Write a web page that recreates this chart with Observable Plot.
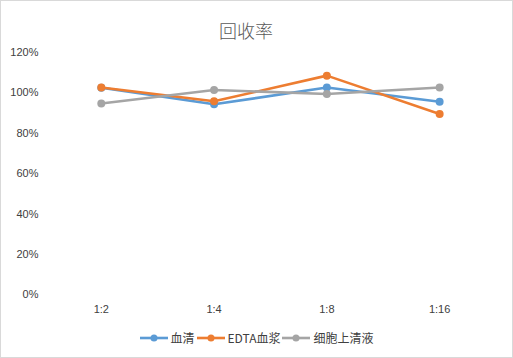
<!DOCTYPE html>
<html><head><meta charset="utf-8">
<script src="https://cdn.jsdelivr.net/npm/d3@7"></script>
<script src="https://cdn.jsdelivr.net/npm/@observablehq/plot@0.6"></script>
<style>
body{margin:0;background:#fff;}
#wrap{position:relative;width:511px;height:356px;border:1px solid #d9d9d9;overflow:hidden;font-family:"Noto Sans CJK SC","Liberation Sans",sans-serif;}
#title{position:absolute;left:0;width:490px;top:16px;text-align:center;font-size:18px;color:#595959;font-weight:300;}
#legend{position:absolute;top:328px;left:0;width:511px;display:flex;justify-content:center;font-size:12px;color:#404040;padding-left:0;}
#legend .it{display:flex;align-items:center;margin:0 1px;}
#legend svg{margin-right:3px;}
#plot{position:absolute;left:-1px;top:-1px;}
</style></head>
<body>
<div id="wrap">
<div id="plot"></div>
<div id="title">回收率</div>
<div id="legend"></div>
</div>
<script>
const categories = ["1:2","1:4","1:8","1:16"];
const seriesNames = ["血清","EDTA血浆","细胞上清液"];
const serum = [1.025, 0.943, 1.026, 0.956];
const edta = [1.026, 0.958, 1.085, 0.895];
const supernatant = [0.947, 1.014, 0.994, 1.026];
const yTicks = [0,0.2,0.4,0.6,0.8,1.0,1.2];
const colors = ["#5B9BD5","#ED7D31","#A5A5A5"];

const seriesValues = [serum, edta, supernatant];
const data = [];
seriesNames.forEach((s,i)=>categories.forEach((c,j)=>data.push({series:s,cat:c,value:seriesValues[i][j]})));

const seriesMarks = seriesNames.flatMap(s=>{
  const d = data.filter(r=>r.series===s);
  return [
    Plot.lineY(d,{x:"cat",y:"value",stroke:"series",strokeWidth:2.6}),
    Plot.dot(d,{x:"cat",y:"value",fill:"series",r:4})
  ];
});

const chart = Plot.plot({
  width:513, height:358,
  marginTop:52, marginBottom:63, marginLeft:44, marginRight:16,
  style:{fontFamily:"'Liberation Sans',sans-serif",fontSize:"11px",color:"#404040",background:"transparent"},
  x:{type:"point",domain:categories,padding:0.5,label:null},
  y:{domain:[0,1.2],label:null},
  color:{domain:seriesNames,range:colors},
  marks:[
    Plot.gridY(yTicks,{stroke:"#d9d9d9",strokeOpacity:1,x1:44,x2:497}),
    Plot.axisY(yTicks,{tickSize:0,tickPadding:6,tickFormat:d3.format(".0%"),label:null,fontSize:11}),
    Plot.axisX({tickSize:0,tickPadding:10,label:null,fontSize:11}),
    ...seriesMarks
  ]
});
document.getElementById("plot").appendChild(chart);

const leg = document.getElementById("legend");
seriesNames.forEach((s,i)=>{
  const it=document.createElement("div");it.className="it";
  it.innerHTML=`<svg width="28" height="10"><line x1="0" y1="5" x2="28" y2="5" stroke="${colors[i]}" stroke-width="2.6"/><circle cx="14" cy="5" r="3.5" fill="${colors[i]}"/></svg><span>${s}</span>`;
  leg.appendChild(it);
});
</script>
</body></html>
